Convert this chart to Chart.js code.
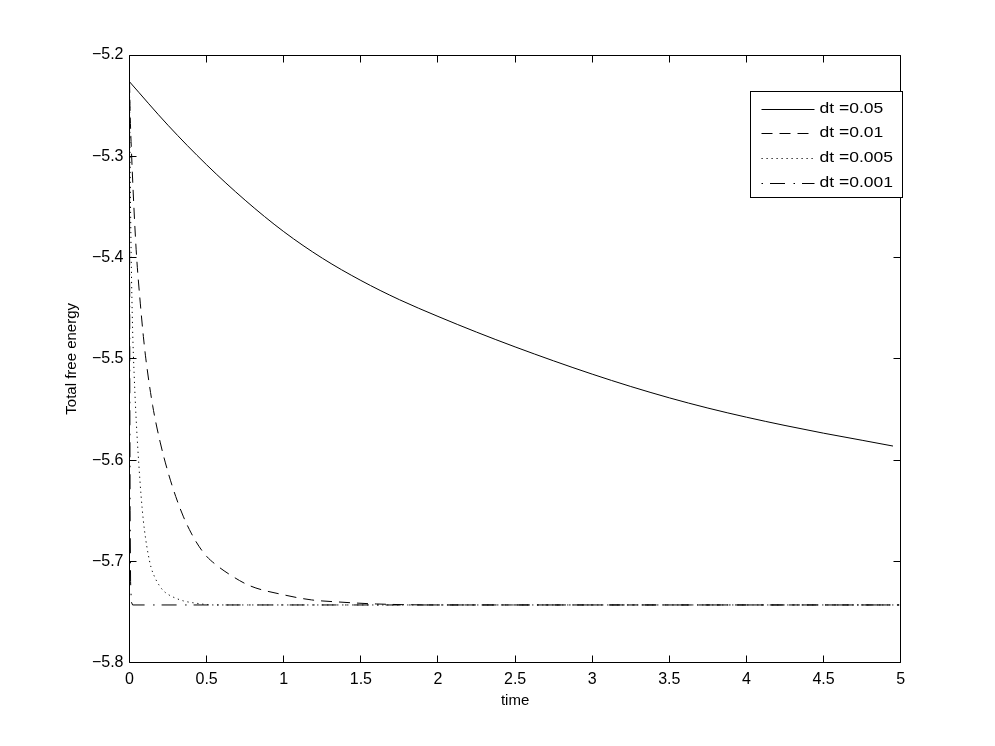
<!DOCTYPE html>
<html>
<head>
<meta charset="utf-8">
<script src="https://cdn.jsdelivr.net/npm/chart.js@4.4.1/dist/chart.umd.min.js"></script>
<style>
html,body{margin:0;padding:0;background:#fff;}
#wrap{width:995px;height:746px;position:relative;}
</style>
</head>
<body>
<div id="wrap"><canvas id="c" width="995" height="746"></canvas></div>
<script>
// ---- data ----
const seriesLabels = ['dt =0.05', 'dt =0.01', 'dt =0.005', 'dt =0.001'];

const timeDt005 = [0, 0.25, 0.5, 0.75, 1.0, 1.25, 1.5, 1.75, 2.0, 2.25, 2.5, 2.75, 3.0, 3.25, 3.5, 3.75, 4.0, 4.25, 4.5, 4.75, 4.95];
const energyDt005 = [-5.2264, -5.2694, -5.3084, -5.3434, -5.3744, -5.4006, -5.4226, -5.4416, -5.4581, -5.4736, -5.4882, -5.5020, -5.5151, -5.5273, -5.5385, -5.5486, -5.5576, -5.5658, -5.5734, -5.5804, -5.5861];

const timeDt001 = [0, 0.005, 0.014, 0.03, 0.046, 0.07, 0.09, 0.106, 0.15, 0.2, 0.25, 0.3, 0.35, 0.4, 0.45, 0.5, 0.55, 0.64, 0.78, 1.0, 1.18, 1.35, 1.6, 2.0, 3.0, 4.0, 4.99];
const energyDt001 = [-5.2264, -5.262, -5.300, -5.355, -5.399, -5.445, -5.478, -5.500, -5.546, -5.583, -5.612, -5.636, -5.656, -5.672, -5.685, -5.695, -5.702, -5.712, -5.724, -5.733, -5.738, -5.740, -5.742, -5.743, -5.743, -5.743, -5.743];

const timeDt0005 = [0, 0.004, 0.011, 0.02, 0.03, 0.045, 0.06, 0.075, 0.09, 0.105, 0.12, 0.14, 0.165, 0.19, 0.22, 0.255, 0.295, 0.35, 0.42, 0.55, 1.0, 2.0, 3.0, 4.0, 4.99];
const energyDt0005 = [-5.2264, -5.31, -5.40, -5.47, -5.515, -5.565, -5.603, -5.635, -5.66, -5.678, -5.692, -5.706, -5.716, -5.723, -5.729, -5.733, -5.736, -5.739, -5.741, -5.743, -5.743, -5.743, -5.743, -5.743, -5.743];

const timeDt0001 = [0, 0.001, 0.002, 0.004, 0.007, 0.012, 0.02, 1.0, 2.0, 3.0, 4.0, 4.99];
const energyDt0001 = [-5.2264, -5.40, -5.52, -5.65, -5.72, -5.740, -5.743, -5.743, -5.743, -5.743, -5.743, -5.743];

const xTickValues = [0, 0.5, 1, 1.5, 2, 2.5, 3, 3.5, 4, 4.5, 5];
const xTickLabels = ['0', '0.5', '1', '1.5', '2', '2.5', '3', '3.5', '4', '4.5', '5'];
const yTickValues = [-5.8, -5.7, -5.6, -5.5, -5.4, -5.3, -5.2];
const yTickLabels = ['\u22125.8', '\u22125.7', '\u22125.6', '\u22125.5', '\u22125.4', '\u22125.3', '\u22125.2'];

const xTitle = 'time';
const yTitle = 'Total free energy';

// ---- build chart ----
function pts(ts, vs) { return ts.map((t, i) => ({x: t, y: vs[i]})); }

const styles = [
  {dash: [], interp: 'monotone'},
  {dash: [11, 7], interp: 'monotone'},
  {dash: [1.2, 3.8], interp: 'monotone'},
  {dash: [1.5, 7, 15, 8.5], interp: 'default'}
];
const seriesData = [
  pts(timeDt005, energyDt005),
  pts(timeDt001, energyDt001),
  pts(timeDt0005, energyDt0005),
  pts(timeDt0001, energyDt0001)
];

Chart.defaults.font.family = "'Liberation Sans', Arial, Helvetica, sans-serif";
Chart.defaults.color = '#000';

function labelFor(values, labels, v) {
  for (let i = 0; i < values.length; i++) if (Math.abs(values[i] - v) < 1e-9) return labels[i];
  return '';
}

const framePlugin = {
  id: 'frame',
  afterDraw(chart) {
    const ctx = chart.ctx;
    const a = chart.chartArea;
    const xs = chart.scales.x, ys = chart.scales.y;
    const snap = v => Math.round(v - 0.5) + 0.5;
    const L = snap(a.left), R = snap(a.right), T = snap(a.top), B = snap(a.bottom);
    ctx.save();
    ctx.strokeStyle = '#000';
    ctx.lineWidth = 1;
    ctx.setLineDash([]);
    ctx.beginPath();
    ctx.rect(L, T, R - L, B - T);
    ctx.stroke();
    const tl = 7;
    ctx.beginPath();
    xTickValues.forEach(v => {
      const px = snap(xs.getPixelForValue(v));
      ctx.moveTo(px, B); ctx.lineTo(px, B - tl);
      ctx.moveTo(px, T); ctx.lineTo(px, T + tl);
    });
    yTickValues.forEach(v => {
      const py = snap(ys.getPixelForValue(v));
      ctx.moveTo(L, py); ctx.lineTo(L + tl, py);
      ctx.moveTo(R, py); ctx.lineTo(R - tl, py);
    });
    ctx.stroke();

    // legend box
    const bx = snap(a.right - 150), by = snap(a.top + 36), bw = 152, bh = 106;
    ctx.fillStyle = '#fff';
    ctx.fillRect(bx, by, bw, bh);
    ctx.strokeRect(bx, by, bw, bh);
    ctx.font = "14px 'Liberation Sans', Arial, sans-serif";
    ctx.textBaseline = 'middle';
    ctx.textAlign = 'left';
    chart.data.datasets.forEach((ds, i) => {
      const y = Math.round(by + 17 + i * 24.7) + 0.5;
      ctx.beginPath();
      ctx.strokeStyle = '#000';
      ctx.setLineDash(ds.borderDash || []);
      ctx.moveTo(bx + 11, y);
      ctx.lineTo(bx + 64, y);
      ctx.stroke();
      ctx.setLineDash([]);
      ctx.fillStyle = '#000';
      ctx.save();
      ctx.translate(bx + 69, y);
      ctx.scale(1.25, 1);
      ctx.fillText(ds.label, 0, 0);
      ctx.restore();
    });
    ctx.restore();
  }
};

new Chart(document.getElementById('c'), {
  type: 'line',
  data: {
    datasets: seriesData.map((d, i) => ({
      label: seriesLabels[i],
      data: d,
      borderColor: '#000',
      borderWidth: 1,
      borderDash: styles[i].dash,
      cubicInterpolationMode: styles[i].interp,
      pointRadius: 0,
      fill: false
    }))
  },
  options: {
    responsive: false,
    animation: false,
    devicePixelRatio: 1,
    layout: {padding: {left: 63, top: 55, right: 94.3, bottom: 36}},
    plugins: {legend: {display: false}, tooltip: {enabled: false}},
    scales: {
      x: {
        type: 'linear',
        min: 0, max: 5,
        afterBuildTicks: s => { s.ticks = xTickValues.map(v => ({value: v})); },
        afterFit: s => { s.height = 47.3; },
        grid: {display: false, drawTicks: false},
        border: {display: false},
        ticks: {
          font: {size: 16},
          padding: 7,
          maxRotation: 0,
          callback: v => labelFor(xTickValues, xTickLabels, v)
        },
        title: {display: true, text: xTitle, font: {size: 15}, padding: 0}
      },
      y: {
        type: 'linear',
        min: -5.8, max: -5.2,
        afterBuildTicks: s => { s.ticks = yTickValues.map(v => ({value: v})); },
        afterFit: s => { s.width = 66.5; },
        grid: {display: false, drawTicks: false},
        border: {display: false},
        ticks: {
          font: {size: 16},
          padding: 6,
          callback: v => labelFor(yTickValues, yTickLabels, v)
        },
        title: {display: true, text: yTitle, font: {size: 15}, padding: 0}
      }
    }
  },
  plugins: [framePlugin]
});
</script>
</body>
</html>
